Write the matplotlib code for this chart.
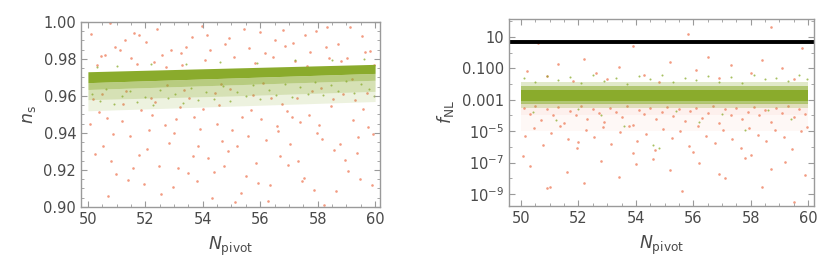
import numpy as np
import matplotlib
matplotlib.use("Agg")
import matplotlib.pyplot as plt
from matplotlib.ticker import MultipleLocator, FixedLocator, NullFormatter

## ---- left panel: n_s vs N_pivot ----
# green band edges (read at N = 50, 55, 60), from dense core to faint speckle
band_N        = [50, 55, 60]
ns_top        = [0.9731, 0.9751, 0.9771]
ns_dense_low  = [0.9672, 0.9697, 0.9722]
ns_mid_low    = [0.9635, 0.9660, 0.9685]
ns_sparse_low = [0.9580, 0.9600, 0.9625]
ns_faint_low  = [0.9520, 0.9545, 0.9570]

ns_red_N = [50.12, 50.37, 50.58, 50.81, 51.03, 51.29, 51.46, 51.72, 51.95, 52.18, 52.41, 52.67, 52.89, 53.14,
            53.36, 53.62, 53.85, 54.07, 54.33, 54.56, 54.78, 55.02, 55.27, 55.49, 55.74, 55.98, 56.21, 56.45,
            56.69, 56.92, 57.15, 57.38, 57.63, 57.87, 58.11, 58.34, 58.58, 58.83, 59.06, 59.29, 59.53, 59.77, 59.95,
            50.24, 50.49, 50.71, 50.93, 51.17, 51.38, 51.61, 51.84, 52.06, 52.29, 52.53, 52.76, 52.99, 53.23,
            53.48, 53.71, 53.96, 54.19, 54.44, 54.66, 54.91, 55.13, 55.38, 55.61, 55.86, 56.09, 56.33, 56.57,
            56.81, 57.03, 57.27, 57.51, 57.75, 57.99, 58.22, 58.47, 58.71, 58.94, 59.18, 59.41, 59.65, 59.88,
            50.06, 50.31, 50.53, 50.77, 50.99, 51.22, 51.51, 51.77, 52.02, 52.24, 52.47, 52.72, 52.95, 53.19,
            53.43, 53.66, 53.91, 54.14, 54.38, 54.62, 54.87, 55.08, 55.33, 55.56, 55.81, 56.04, 56.27, 56.52,
            56.75, 56.98, 57.21, 57.46, 57.69, 57.93, 58.16, 58.41, 58.65, 58.88, 59.12, 59.36, 59.59, 59.82,
            50.18, 50.44, 50.66, 50.88, 51.11, 51.34, 51.57, 51.79, 52.12, 52.35, 52.58, 52.83, 53.07, 53.29,
            53.53, 53.79, 54.02, 54.25, 54.51, 54.73, 54.96, 55.19, 55.44, 55.67, 55.92, 56.16, 56.39, 56.63,
            56.87, 57.09, 57.33, 57.57, 57.81, 58.05, 58.29, 58.53, 58.77, 59.01, 59.24, 59.47, 59.71, 59.93]
ns_red_val = [0.9934, 0.9512, 0.9821, 0.9247, 0.9688, 0.9903, 0.9386, 0.9775, 0.9125, 0.9587, 0.9962, 0.9443,
              0.9851, 0.9209, 0.9634, 0.9917, 0.9328, 0.9796, 0.9051, 0.9552, 0.9879, 0.9416, 0.9735, 0.9168,
              0.9605, 0.9946, 0.9362, 0.9808, 0.9273, 0.9521, 0.9889, 0.9457, 0.9762, 0.9094, 0.9641, 0.9972,
              0.9308, 0.9789, 0.9192, 0.9576, 0.9925, 0.9431, 0.9768,
              0.9287, 0.9613, 0.9058, 0.9864, 0.9465, 0.9148, 0.9941, 0.9523, 0.9312, 0.9785, 0.9071, 0.9659,
              0.9398, 0.9834, 0.9183, 0.9487, 0.9978, 0.9263, 0.9617, 0.9354, 0.9912, 0.9029, 0.9488, 0.9857,
              0.9236, 0.9672, 0.9119, 0.9439, 0.9958, 0.9341, 0.9587, 0.9155, 0.9836, 0.9402, 0.9013, 0.9546,
              0.9881, 0.9254, 0.9692, 0.9377, 0.9839, 0.9117,
              0.9447, 0.9769, 0.9331, 0.9996, 0.9179, 0.9557, 0.9804, 0.9282, 0.9891, 0.9499, 0.9221, 0.9758,
              0.9106, 0.9538, 0.9863, 0.9274, 0.9419, 0.9928, 0.9191, 0.9666, 0.9303, 0.9812, 0.9075, 0.9384,
              0.9779, 0.9473, 0.9033, 0.9902, 0.9559, 0.9226, 0.9787, 0.9139, 0.9499, 0.9949, 0.9367, 0.9806,
              0.9088, 0.9612, 0.9973, 0.9292, 0.9531, 0.9845,
              0.9584, 0.9816, 0.9479, 0.9394, 0.9851, 0.9627, 0.9209, 0.9927, 0.9416, 0.9568, 0.9823, 0.9346,
              0.9476, 0.9769, 0.9591, 0.9142, 0.9531, 0.9851, 0.9446, 0.9222, 0.9639, 0.9328, 0.9963, 0.9523,
              0.9127, 0.9834, 0.9589, 0.9411, 0.9868, 0.9488, 0.9249, 0.9927, 0.9626, 0.9441, 0.9866, 0.9583,
              0.9341, 0.9806, 0.9469, 0.9153, 0.9618, 0.9393]

ns_grn_N = [50.15, 50.42, 50.63, 50.9, 51.2, 51.45, 51.7, 52.0, 52.25, 52.5, 52.8, 53.05, 53.3, 53.6, 53.85,
            54.1, 54.4, 54.7, 54.95, 55.2, 55.5, 55.75, 56.0, 56.3, 56.55, 56.85, 57.1, 57.4, 57.65, 57.9,
            58.2, 58.45, 58.7, 59.0, 59.25, 59.5, 59.8, 59.95,
            50.3, 51.0, 52.2, 53.4, 54.6, 55.9, 57.2, 58.5, 59.6]
ns_grn_val = [0.9612, 0.9574, 0.9638, 0.9556, 0.9601, 0.9627, 0.9565, 0.9596, 0.9552, 0.9632, 0.9589, 0.9611,
              0.9563, 0.9642, 0.9577, 0.9619, 0.9586, 0.9653, 0.9571, 0.9624, 0.9598, 0.9661, 0.9583, 0.9632,
              0.9605, 0.9667, 0.9594, 0.9648, 0.9613, 0.9674, 0.9608, 0.9659, 0.9627, 0.9683, 0.9616, 0.9664,
              0.9639, 0.9601,
              0.9758, 0.9761, 0.9772, 0.9774, 0.9781, 0.9779, 0.9792, 0.9797, 0.9801]

## ---- right panel: f_NL vs N_pivot (values as log10 f_NL) ----
lf_top        = [-2.37, -2.37, -2.37]
lf_dense_low  = [-3.1, -3.1, -3.1]
lf_mid_top    = [-2.15, -2.15, -2.15]
lf_mid_low    = [-3.3, -3.3, -3.3]
lf_sparse_top = [-1.85, -1.85, -1.85]
lf_sparse_low = [-3.55, -3.55, -3.55]
lf_red_top    = [-3.2, -3.2, -3.2]
lf_red_mid    = [-4.0, -4.0, -4.0]
lf_red_low    = [-5.0, -5.0, -5.0]
fnl_bound = 5.0

fnl_red_N = [50.1, 50.3, 50.5, 50.7, 50.9, 51.1, 51.3, 51.5, 51.7, 51.9, 52.1, 52.3, 52.5, 52.7, 52.9, 53.1,
             53.3, 53.5, 53.7, 53.9, 54.1, 54.3, 54.5, 54.7, 54.9, 55.1, 55.3, 55.5, 55.7, 55.9, 56.1, 56.3,
             56.5, 56.7, 56.9, 57.1, 57.3, 57.5, 57.7, 57.9, 58.1, 58.3, 58.5, 58.7, 58.9, 59.1, 59.3, 59.5,
             59.7, 59.9,
             50.15, 50.45, 50.75, 51.05, 51.35, 51.65, 51.95, 52.25, 52.55, 52.85, 53.15, 53.45, 53.75, 54.05,
             54.35, 54.65, 54.95, 55.25, 55.55, 55.85, 56.15, 56.45, 56.75, 57.05, 57.35, 57.65, 57.95, 58.25,
             58.55, 58.85, 59.15, 59.45, 59.75, 59.95, 52.0, 53.9, 56.0, 58.0,
             50.3, 50.9, 51.0, 51.6, 52.2, 52.8, 53.4, 54.0, 54.6, 55.2, 55.6, 56.2, 56.9, 57.1, 57.8, 58.4,
             58.7, 59.2, 59.5, 59.9, 50.05,
             50.2, 50.6, 50.9, 51.3, 51.8, 52.2, 52.6, 53.0, 53.4, 53.9, 54.3, 54.8, 55.2, 55.8, 56.1, 56.5,
             56.9, 57.3, 57.6, 58.0, 58.4, 58.7, 59.1, 59.5, 59.8]
fnl_red_log = [-3.5, -3.9, -3.4, -4.3, -3.6, -4.0, -3.45, -4.5, -3.7, -3.95, -3.4, -4.2, -3.6, -3.85, -4.4,
               -3.5, -3.75, -4.1, -3.4, -4.6, -3.65, -3.9, -3.5, -4.25, -3.8, -3.45, -4.05, -3.6, -4.35, -3.7,
               -3.5, -4.15, -3.85, -3.4, -4.5, -3.6, -3.95, -3.5, -4.2, -3.75, -3.45, -4.0, -3.65, -4.4, -3.55,
               -3.85, -3.4, -4.1, -3.6, -3.9,
               -5.3, -4.8, -5.9, -5.1, -4.7, -5.5, -6.1, -4.9, -5.4, -4.75, -5.8, -5.05, -4.65, -5.6, -5.2,
               -6.2, -4.85, -5.45, -5.0, -5.95, -4.7, -5.3, -5.75, -4.95, -5.5, -6.05, -4.8, -5.25, -5.65,
               -4.9, -5.4, -6.15, -5.0, -4.75, -5.7, -6.4, -6.3, -6.5,
               -7.23, -8.6, -8.58, -7.6, -8.3, -6.9, -7.9, -7.1, -6.8, -7.5, -8.8, -7.0, -7.7, -8.0, -6.7,
               -8.55, -7.4, -6.95, -9.5, -7.8, -6.6,
               -1.2, 0.6, -1.5, -0.7, -1.8, -0.4, -1.3, -1.7, -0.9, 0.4, -1.4, -1.9, -0.6, 1.2, -1.1, -0.3,
               -1.6, -0.8, 0.7, -1.3, -0.5, 1.65, -1.0, -1.7, 0.3]

fnl_grn_N = [50.1, 50.5, 50.9, 51.3, 51.7, 52.1, 52.5, 52.9, 53.3, 53.7, 54.1, 54.5, 54.9, 55.3, 55.7, 56.1,
             56.5, 56.9, 57.3, 57.7, 58.1, 58.5, 58.9, 59.3, 59.7, 59.95,
             50.4, 51.2, 52.0, 52.8, 53.6, 54.6, 55.4, 56.2, 57.0, 57.8, 58.6, 59.4, 54.8]
fnl_grn_log = [-1.6, -1.9, -1.5, -1.75, -1.55, -1.95, -1.45, -1.8, -1.6, -2.0, -1.5, -1.7, -1.45, -1.9, -1.6,
               -1.75, -1.5, -1.85, -1.55, -1.95, -1.45, -1.7, -1.6, -1.8, -1.4, -1.65,
               -3.8, -4.3, -3.6, -4.0, -4.7, -5.9, -3.7, -4.4, -3.9, -4.9, -3.65, -4.2, -6.1]

GREEN = '#8aab2c'
RED   = '#f08a6c'
FRAME = '#9a9a9a'
TXT   = '#4a4a4a'
DOT   = 3.5

plt.rcParams['font.family'] = 'DejaVu Sans'
plt.rcParams['mathtext.fontset'] = 'dejavusans'

fig = plt.figure(figsize=(8.3, 2.73), dpi=100)
ax1 = fig.add_axes([0.0976, 0.2418, 0.3602, 0.6777])
ax2 = fig.add_axes([0.6133, 0.2454, 0.3675, 0.6850])

def style(ax):
    for sp in ax.spines.values():
        sp.set_color(FRAME)
        sp.set_linewidth(1.0)
    ax.tick_params(which='both', direction='in', top=True, right=True,
                   colors=FRAME, labelcolor=TXT, labelsize=10.5)
    ax.tick_params(which='major', length=4)
    ax.tick_params(which='minor', length=2)
    ax.xaxis.set_major_locator(MultipleLocator(2))
    ax.xaxis.set_minor_locator(MultipleLocator(0.5))
    ax.set_xlabel(r'$N_\mathrm{pivot}$', fontsize=12.5, color=TXT, labelpad=6)

## left
ax1.scatter(ns_red_N, ns_red_val, s=DOT, c=RED, linewidths=0, alpha=0.85)
ax1.fill_between(band_N, ns_faint_low, ns_sparse_low, color=GREEN, alpha=0.15, lw=0)
ax1.fill_between(band_N, ns_sparse_low, ns_mid_low, color=GREEN, alpha=0.35, lw=0)
ax1.fill_between(band_N, ns_mid_low, ns_dense_low, color=GREEN, alpha=0.6, lw=0)
ax1.fill_between(band_N, ns_dense_low, ns_top, color=GREEN, lw=0)
ax1.scatter(ns_grn_N, ns_grn_val, s=2.2, c=GREEN, linewidths=0, alpha=0.75)
ax1.set_xlim(49.76, 60.17)
ax1.set_ylim(0.90, 1.00)
ax1.yaxis.set_major_locator(MultipleLocator(0.02))
ax1.yaxis.set_minor_locator(MultipleLocator(0.005))
ax1.yaxis.set_major_formatter(plt.FormatStrFormatter('%.2f'))
style(ax1)
ax1.set_ylabel(r'$n_\mathrm{s}$', fontsize=12.5, color=TXT, labelpad=4)

## right
ax2.set_yscale('log')
ax2.fill_between(band_N, 10 ** np.array(lf_red_mid), 10 ** np.array(lf_red_top), color=RED, alpha=0.12, lw=0)
ax2.fill_between(band_N, 10 ** np.array(lf_red_low), 10 ** np.array(lf_red_mid), color=RED, alpha=0.06, lw=0)
ax2.scatter(fnl_red_N, 10 ** np.array(fnl_red_log), s=DOT, c=RED, linewidths=0, alpha=0.85)
ax2.fill_between(band_N, 10 ** np.array(lf_sparse_low), 10 ** np.array(lf_sparse_top), color=GREEN, alpha=0.25, lw=0)
ax2.fill_between(band_N, 10 ** np.array(lf_mid_low), 10 ** np.array(lf_mid_top), color=GREEN, alpha=0.55, lw=0)
ax2.fill_between(band_N, 10 ** np.array(lf_dense_low), 10 ** np.array(lf_top), color=GREEN, lw=0)
ax2.scatter(fnl_grn_N, 10 ** np.array(fnl_grn_log), s=2.2, c=GREEN, linewidths=0, alpha=0.75)
ax2.axhline(fnl_bound, color='black', lw=2.8)
ax2.set_xlim(49.58, 60.21)
ax2.set_ylim(10 ** -9.76, 10 ** 2.14)
ytk = [10, 0.1, 1e-3, 1e-5, 1e-7, 1e-9]
ytl = ['10', '0.100', '0.001', r'$10^{-5}$', r'$10^{-7}$', r'$10^{-9}$']
ax2.yaxis.set_major_locator(FixedLocator(ytk))
ax2.set_yticklabels(ytl)
ax2.yaxis.set_minor_locator(FixedLocator([1e2, 1, 1e-2, 1e-4, 1e-6, 1e-8]))
ax2.yaxis.set_minor_formatter(NullFormatter())
style(ax2)
ax2.set_ylabel(r'$f_\mathrm{NL}$', fontsize=12.5, color=TXT, labelpad=4)

fig.savefig('out.png', dpi=100)
